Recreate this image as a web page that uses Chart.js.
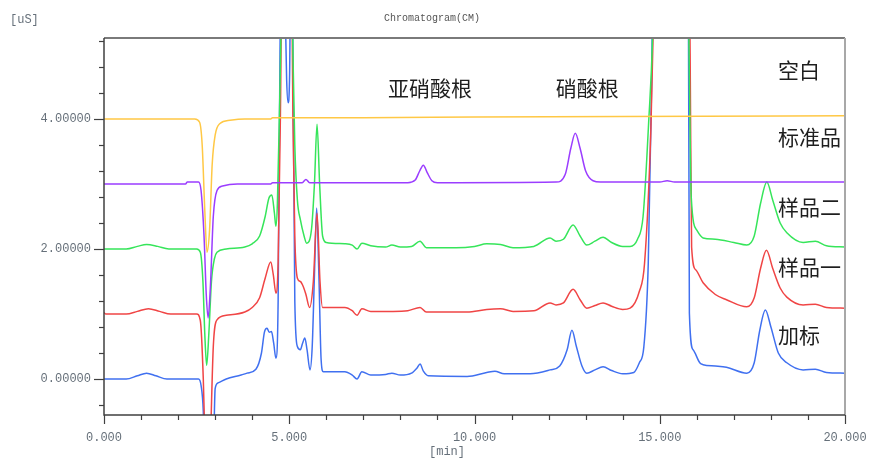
<!DOCTYPE html>
<html>
<head>
<meta charset="utf-8">
<script src="https://cdn.jsdelivr.net/npm/chart.js@4"></script>
<style>
html, body { margin: 0; padding: 0; background: #fff; }
#wrap { width: 869px; height: 459px; position: relative; }
</style>
</head>
<body>
<div id="wrap"><canvas id="chrom"></canvas></div>
<script>
// retention time [min], conductivity [uS] (traces are offset by the instrument software)
const blank = [
  [0, 4.0], [2.45, 4.0], [2.58, 3.95], [2.65, 3.6], [2.72, 2.6], [2.78, 1.95], [2.85, 2.3],
  [2.92, 3.3], [3.0, 3.75], [3.13, 3.93], [3.4, 3.98], [3.8, 4.0], [4.5, 4.0], [4.55, 4.02],
  [7.0, 4.02], [10.0, 4.03], [14.0, 4.04], [20.0, 4.05]
];
const standard = [
  [0, 3.0], [2.2, 3.0], [2.25, 3.03], [2.55, 3.03], [2.62, 2.9], [2.7, 2.2], [2.76, 1.3],
  [2.81, 0.94], [2.87, 1.4], [2.95, 2.5], [3.05, 2.9], [3.2, 2.97], [3.6, 3.0], [4.5, 3.0],
  [4.55, 3.02], [5.35, 3.02], [5.45, 3.07], [5.55, 3.02], [8.2, 3.02], [8.4, 3.06], [8.52, 3.2],
  [8.62, 3.29], [8.72, 3.18], [8.85, 3.05], [9.0, 3.02], [12.2, 3.03], [12.45, 3.15], [12.6, 3.55],
  [12.72, 3.78], [12.85, 3.55], [13.0, 3.2], [13.2, 3.05], [13.4, 3.03], [15.0, 3.03], [15.2, 3.05],
  [15.4, 3.03], [20.0, 3.03]
];
const sample2 = [
  [0, 2.0], [0.6, 2.0], [0.9, 2.04], [1.15, 2.07], [1.45, 2.04], [1.75, 2.0], [2.5, 2.0], [2.6, 1.95],
  [2.67, 1.5], [2.72, 0.7], [2.77, 0.21], [2.83, 0.7], [2.9, 1.5], [2.98, 1.85], [3.05, 1.95],
  [3.3, 2.0], [3.8, 2.03], [4.0, 2.08], [4.2, 2.2], [4.35, 2.5], [4.45, 2.78], [4.53, 2.83],
  [4.6, 2.55], [4.64, 2.35], [4.68, 2.7], [4.75, 4.5], [4.85, 7.0], [5.05, 7.0], [5.1, 5.0],
  [5.15, 3.6], [5.22, 2.75], [5.3, 2.45], [5.4, 2.2], [5.47, 2.09], [5.6, 2.3], [5.68, 3.0],
  [5.75, 3.92], [5.82, 3.0], [5.9, 2.2], [6.0, 2.1], [6.5, 2.08], [6.7, 2.06], [6.83, 2.0],
  [6.96, 2.09], [7.2, 2.05], [7.6, 2.03], [7.77, 2.06], [8.0, 2.03], [8.3, 2.04], [8.53, 2.12],
  [8.7, 2.02], [9.5, 2.02], [10.0, 2.04], [10.33, 2.08], [10.7, 2.07], [11.04, 2.02], [11.6, 2.04],
  [12.04, 2.17], [12.2, 2.12], [12.4, 2.15], [12.66, 2.37], [12.85, 2.2], [13.03, 2.06], [13.25, 2.12],
  [13.47, 2.18], [13.7, 2.1], [14.0, 2.04], [14.2, 2.04], [14.4, 2.15], [14.55, 2.5], [14.7, 3.94],
  [14.82, 5.5], [14.9, 8.0], [15.3, 7.0], [15.7, 8.0], [15.78, 5.5], [15.85, 2.8], [16.0, 2.29],
  [16.17, 2.17], [16.5, 2.15], [17.0, 2.1], [17.35, 2.06], [17.55, 2.2], [17.72, 2.7], [17.89, 3.03],
  [18.05, 2.75], [18.25, 2.4], [18.43, 2.25], [18.87, 2.1], [19.2, 2.12], [19.5, 2.05], [20.0, 2.03]
];
const sample1 = [
  [0, 1.02], [0.05, 1.0], [0.6, 1.0], [0.9, 1.04], [1.2, 1.08], [1.5, 1.04], [1.8, 1.0], [2.5, 1.0],
  [2.6, 0.9], [2.68, 0.0], [2.75, -1.5], [2.8, -2.0], [2.87, -1.0], [2.95, 0.5], [3.05, 0.91],
  [3.3, 0.98], [3.8, 1.03], [4.0, 1.1], [4.2, 1.25], [4.35, 1.55], [4.5, 1.8], [4.57, 1.6],
  [4.64, 1.32], [4.7, 1.8], [4.76, 4.0], [4.82, 7.0], [5.05, 7.0], [5.1, 4.0], [5.15, 2.2],
  [5.22, 1.55], [5.3, 1.5], [5.38, 1.42], [5.45, 1.3], [5.55, 1.1], [5.65, 1.5], [5.75, 2.55],
  [5.83, 1.5], [5.9, 1.1], [6.0, 1.1], [6.5, 1.1], [6.7, 1.05], [6.83, 0.98], [6.96, 1.08],
  [7.2, 1.04], [7.8, 1.04], [8.2, 1.05], [8.53, 1.1], [8.7, 1.03], [9.8, 1.03], [10.33, 1.07],
  [10.7, 1.08], [11.04, 1.04], [11.6, 1.05], [12.04, 1.17], [12.2, 1.14], [12.4, 1.17], [12.66, 1.38],
  [12.85, 1.22], [13.03, 1.09], [13.25, 1.13], [13.47, 1.17], [13.7, 1.12], [14.0, 1.07], [14.2, 1.09],
  [14.45, 1.35], [14.59, 1.78], [14.76, 3.83], [14.85, 6.0], [15.0, 8.0], [15.4, 7.0], [15.75, 8.0],
  [15.82, 5.0], [15.86, 2.03], [15.97, 1.68], [16.17, 1.48], [16.5, 1.3], [16.8, 1.22], [17.35, 1.11],
  [17.55, 1.25], [17.72, 1.7], [17.88, 1.98], [18.05, 1.7], [18.25, 1.4], [18.43, 1.26], [18.87, 1.14],
  [19.2, 1.15], [19.5, 1.1], [20.0, 1.09]
];
const spiked = [
  [0, 0.0], [0.6, 0.0], [0.9, 0.05], [1.15, 0.09], [1.4, 0.05], [1.7, 0.0], [2.55, 0.0], [2.62, -0.1],
  [2.68, -0.5], [2.75, -2.0], [2.88, -2.2], [2.96, -1.0], [3.0, -0.15], [3.08, -0.06], [3.3, 0.0],
  [3.7, 0.06], [3.86, 0.09], [4.1, 0.15], [4.25, 0.4], [4.33, 0.72], [4.4, 0.78], [4.46, 0.72],
  [4.52, 0.73], [4.58, 0.55], [4.64, 0.32], [4.7, 1.2], [4.75, 5.0], [4.8, 7.0], [4.88, 6.0],
  [4.93, 4.6], [4.97, 4.25], [5.01, 4.7], [5.05, 7.0], [5.1, 5.0], [5.15, 1.2], [5.22, 0.5],
  [5.3, 0.45], [5.36, 0.55], [5.42, 0.63], [5.48, 0.45], [5.56, 0.14], [5.62, 0.5], [5.68, 1.6],
  [5.74, 2.63], [5.8, 1.6], [5.86, 0.3], [5.92, 0.11], [6.2, 0.11], [6.5, 0.11], [6.7, 0.06],
  [6.83, 0.0], [6.96, 0.11], [7.2, 0.06], [7.6, 0.07], [7.77, 0.09], [8.0, 0.06], [8.3, 0.09],
  [8.45, 0.17], [8.53, 0.23], [8.62, 0.12], [8.75, 0.05], [9.8, 0.04], [10.33, 0.1], [10.55, 0.12],
  [10.8, 0.08], [11.5, 0.08], [12.04, 0.14], [12.3, 0.2], [12.5, 0.45], [12.63, 0.75], [12.75, 0.5],
  [12.9, 0.2], [13.03, 0.09], [13.25, 0.14], [13.47, 0.19], [13.7, 0.13], [14.0, 0.08], [14.3, 0.1],
  [14.45, 0.25], [14.57, 0.49], [14.69, 1.78], [14.78, 4.5], [14.83, 7.0], [15.2, 7.0], [15.76, 8.0],
  [15.8, 1.01], [15.9, 0.45], [16.08, 0.25], [16.17, 0.22], [16.5, 0.2], [16.8, 0.18], [17.35, 0.09],
  [17.55, 0.25], [17.7, 0.75], [17.85, 1.06], [18.0, 0.8], [18.2, 0.4], [18.43, 0.25], [18.87, 0.14],
  [19.2, 0.15], [19.5, 0.1], [20.0, 0.09]
];

const traceNames = ['空白', '标准品', '样品二', '样品一', '加标'];
const traceColors = ['#ffc845', '#9b3dff', '#36e55a', '#f04545', '#4070f0'];
const traces = [blank, standard, sample2, sample1, spiked];
const peakNames = ['亚硝酸根', '硝酸根'];

const monoFont = '"Liberation Mono", "DejaVu Sans Mono", monospace';
const cjkFont = '"Noto Sans CJK SC", "Noto Sans", sans-serif';

const decorPlugin = {
    id: 'decor',
    afterDatasetsDraw(chart) {
        const ctx = chart.ctx;
        const xs = chart.scales.x;
        const ys = chart.scales.y;
        const a = chart.chartArea;
        ctx.save();

        // frame
        ctx.lineWidth = 2;
        ctx.strokeStyle = '#7a7a7a';
        ctx.beginPath(); ctx.moveTo(a.left, a.top); ctx.lineTo(a.right, a.top); ctx.stroke();
        ctx.strokeStyle = '#a8a8a8';
        ctx.beginPath(); ctx.moveTo(a.right, a.top); ctx.lineTo(a.right, a.bottom); ctx.stroke();
        ctx.lineWidth = 1.5;
        ctx.strokeStyle = '#404040';
        ctx.beginPath(); ctx.moveTo(a.left, a.top); ctx.lineTo(a.left, a.bottom); ctx.lineTo(a.right, a.bottom); ctx.stroke();

        // tick marks
        ctx.lineWidth = 1.2;
        for (let t = 0; t <= 20; t++) {
            const px = Math.round(xs.getPixelForValue(t)) + 0.5;
            const len = t % 5 === 0 ? 9 : 5;
            ctx.beginPath(); ctx.moveTo(px, a.bottom); ctx.lineTo(px, a.bottom + len); ctx.stroke();
        }
        for (let i = -1; i <= 13; i++) {
            const py = Math.round(ys.getPixelForValue(i * 0.4)) + 0.5;
            const len = i % 5 === 0 ? 10 : 5;
            ctx.beginPath(); ctx.moveTo(a.left - len, py); ctx.lineTo(a.left, py); ctx.stroke();
        }

        // header / units
        ctx.fillStyle = '#555';
        ctx.font = '10px ' + monoFont;
        ctx.textAlign = 'center';
        ctx.textBaseline = 'middle';
        ctx.fillText('Chromatogram(CM)', 432, 18);
        ctx.fillStyle = '#66707a';
        ctx.font = '12px ' + monoFont;
        ctx.textAlign = 'left';
        ctx.fillText('[uS]', 10, 20);
        ctx.textAlign = 'center';
        ctx.fillText('[min]', 447, 452);

        // peak and trace names
        ctx.fillStyle = '#1e1e1e';
        ctx.font = '21px ' + cjkFont;
        ctx.textAlign = 'center';
        ctx.fillText(peakNames[0], xs.getPixelForValue(8.8), ys.getPixelForValue(4.48));
        ctx.fillText(peakNames[1], xs.getPixelForValue(13.04), ys.getPixelForValue(4.48));
        ctx.textAlign = 'left';
        const nameLevels = [4.75, 3.72, 2.65, 1.72, 0.68];
        traceNames.forEach((n, i) => {
            ctx.fillText(n, xs.getPixelForValue(18.19), ys.getPixelForValue(nameLevels[i]));
        });
        ctx.restore();
    }
};

const ctx = document.getElementById('chrom').getContext('2d');
new Chart(ctx, {
    type: 'line',
    data: {
        datasets: traces.map((tr, i) => ({
            label: traceNames[i],
            data: tr.map(p => ({ x: p[0], y: p[1] })),
            borderColor: traceColors[i],
            borderWidth: 1.5,
            pointRadius: 0,
            fill: false,
            cubicInterpolationMode: 'monotone',
            order: i
        }))
    },
    options: {
        responsive: true,
        maintainAspectRatio: false,
        animation: false,
        layout: { padding: { top: 38, right: 24, left: 0, bottom: 0 } },
        plugins: { legend: { display: false }, tooltip: { enabled: false } },
        scales: {
            x: {
                type: 'linear',
                min: 0,
                max: 20,
                grid: { display: false, drawTicks: false },
                border: { display: false },
                ticks: {
                    stepSize: 5,
                    includeBounds: false,
                    padding: 16,
                    maxRotation: 0,
                    color: '#66707a',
                    font: { family: monoFont, size: 12 },
                    callback: v => v.toFixed(3)
                },
                afterFit: s => { s.height = 44; s.paddingLeft = 0; s.paddingRight = 0; }
            },
            y: {
                min: -0.554,
                max: 5.246,
                grid: { display: false, drawTicks: false },
                border: { display: false },
                ticks: {
                    stepSize: 2,
                    includeBounds: false,
                    padding: 13,
                    color: '#66707a',
                    font: { family: monoFont, size: 12 },
                    callback: v => v.toFixed(5)
                },
                afterFit: s => { s.width = 104; s.paddingTop = 0; s.paddingBottom = 0; }
            }
        }
    },
    plugins: [decorPlugin]
});
</script>
</body>
</html>
